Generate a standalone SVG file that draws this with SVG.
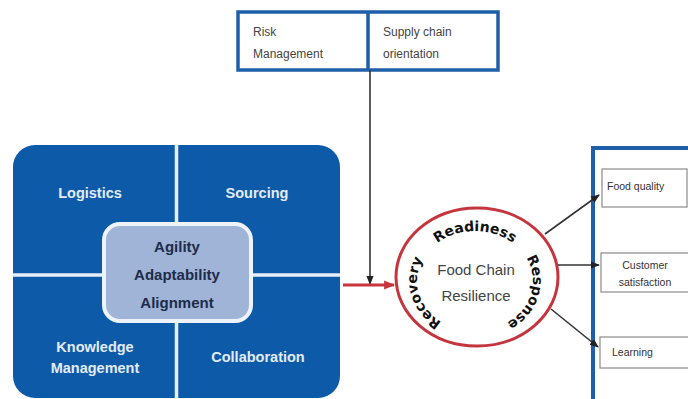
<svg xmlns="http://www.w3.org/2000/svg" width="688" height="399" viewBox="0 0 688 399">
<defs>
<style>
.q{font-family:"Liberation Sans",Arial,sans-serif;font-weight:bold;font-size:14.5px;fill:#e3ebf6;text-anchor:middle}
.c{font-family:"Liberation Sans",Arial,sans-serif;font-weight:bold;font-size:15px;fill:#1c2c4a;text-anchor:middle}
.t{font-family:"Liberation Sans",Arial,sans-serif;font-size:12px;fill:#444}
.r{font-family:"Liberation Sans",Arial,sans-serif;font-size:15px;fill:#444;text-anchor:middle}
.ring{font-family:"DejaVu Sans",sans-serif;font-weight:bold;font-size:14px;fill:#111;text-anchor:middle}
.s{font-family:"Liberation Sans",Arial,sans-serif;font-size:10.5px;fill:#333}
.blk{stroke:#333;stroke-width:1.6;fill:none}
.box{fill:#fff;stroke:#8a8a8a;stroke-width:1.2}
.blue{fill:none;stroke:#1f5fa9;stroke-width:3.5}
</style>
<marker id="ah" viewBox="0 0 10 10" refX="9" refY="5" markerWidth="9" markerHeight="9" orient="auto" markerUnits="userSpaceOnUse">
<path d="M0,1 L10,5 L0,9 z" fill="#222"/>
</marker>
<marker id="rh" viewBox="0 0 10 10" refX="9" refY="5" markerWidth="11" markerHeight="11" orient="auto" markerUnits="userSpaceOnUse">
<path d="M0,1 L10,5 L0,9 z" fill="#c8353d"/>
</marker>
<path id="ringPath" d="M 475 331 A 58 50 0 0 1 417 281 A 58 50 0 0 1 475 231 A 58 50 0 0 1 533 281 A 58 50 0 0 1 475 331"/>
</defs>
<rect width="688" height="399" fill="#fff"/>

<g id="top-box">
<rect x="238" y="12" width="260" height="58" class="blue"/>
<line x1="368" y1="12" x2="368" y2="70" class="blue"/>
<text class="t" x="253" y="36">Risk</text>
<text class="t" x="253" y="58">Management</text>
<text class="t" x="383" y="36">Supply chain</text>
<text class="t" x="383" y="58">orientation</text>
</g>

<g id="capabilities">
<rect x="13" y="145" width="327" height="253" rx="22" fill="#0d5ba8"/>
<line x1="176.5" y1="145" x2="176.5" y2="398" stroke="#e6eef8" stroke-width="3.5"/>
<line x1="13" y1="275" x2="340" y2="275" stroke="#e6eef8" stroke-width="3.5"/>
<text class="q" x="90" y="198">Logistics</text>
<text class="q" x="257" y="198">Sourcing</text>
<text class="q" x="95" y="352">Knowledge</text>
<text class="q" x="95" y="373">Management</text>
<text class="q" x="258" y="362">Collaboration</text>
</g>

<g id="center-box">
<rect x="104" y="224" width="147" height="97" rx="16" fill="#9fb4d7" stroke="#eef3fa" stroke-width="4"/>
<text class="c" x="177" y="252">Agility</text>
<text class="c" x="177" y="280">Adaptability</text>
<text class="c" x="177" y="308">Alignment</text>
</g>

<g id="resilience">
<ellipse cx="477" cy="277" rx="81" ry="69" fill="#fff" stroke="#c4353d" stroke-width="3"/>
<text class="ring"><textPath href="#ringPath" startOffset="21%">Recovery</textPath></text>
<text class="ring"><textPath href="#ringPath" startOffset="50%">Readiness</textPath></text>
<text class="ring"><textPath href="#ringPath" startOffset="79%">Response</textPath></text>
<text class="r" x="476" y="275">Food Chain</text>
<text class="r" x="476" y="301">Resilience</text>
</g>

<g id="outcomes">
<rect x="593" y="148" width="120" height="270" fill="#fff" stroke="#1f5fa9" stroke-width="4"/>
</g>
<g id="food-quality">
<rect x="602" y="169" width="85" height="38" class="box"/>
<text class="s" x="607" y="190">Food quality</text>
</g>
<g id="customer-satisfaction">
<rect x="601" y="253" width="92" height="39" class="box"/>
<text class="s" x="645" y="269" text-anchor="middle" font-size="10">Customer</text>
<text class="s" x="645" y="286" text-anchor="middle" font-size="10">satisfaction</text>
</g>
<g id="learning">
<rect x="600" y="337" width="93" height="31" class="box"/>
<text class="s" x="612" y="356">Learning</text>
</g>

<g id="connectors">
<line x1="370" y1="70" x2="370" y2="284" class="blk" marker-end="url(#ah)"/>
<line x1="343" y1="285" x2="394" y2="285" stroke="#c8353d" stroke-width="3" marker-end="url(#rh)"/>
<line x1="545" y1="234" x2="599" y2="195" class="blk" marker-end="url(#ah)"/>
<line x1="558" y1="265" x2="599" y2="265" class="blk" marker-end="url(#ah)"/>
<line x1="551" y1="309" x2="598" y2="347" class="blk" marker-end="url(#ah)"/>
</g>
</svg>
